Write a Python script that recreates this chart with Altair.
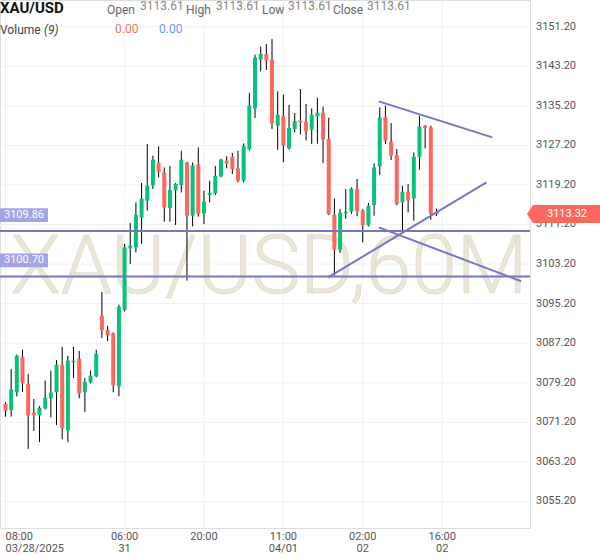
import altair as alt
import pandas as pd

# ---------------- data ----------------
opens = [3074.91, 3073.69, 3077.25, 3084.47, 3078.95, 3073.15, 3072.60, 3074.02, 3076.04, 3077.25,
         3082.85, 3069.51, 3083.32, 3084.07, 3077.25, 3079.27, 3080.49, 3092.76, 3089.87, 3089.18,
         3078.46, 3093.91, 3106.37, 3106.57, 3112.64, 3116.02, 3119.11, 3123.70, 3121.68, 3114.54,
         3118.10, 3119.19, 3123.70, 3112.98, 3123.36, 3113.45, 3117.17, 3117.49, 3120.93, 3124.10,
         3124.91, 3122.55, 3120.06, 3126.47, 3134.68, 3144.53, 3145.68, 3144.53, 3131.18, 3133.20,
         3126.59, 3130.52, 3132.19, 3131.99, 3130.37, 3133.06, 3133.81, 3128.49, 3113.18, 3106.11,
         3113.45, 3113.79, 3118.44, 3113.99, 3111.02, 3115.15, 3122.95, 3133.00, 3127.95, 3125.26,
         3115.67, 3117.84, 3116.48, 3124.91, 3131.18, 3130.84, 3113.61]
highs = [3075.23, 3081.98, 3084.90, 3085.89, 3080.97, 3075.92, 3074.50, 3079.62, 3081.64, 3083.80,
         3086.43, 3084.67, 3086.43, 3085.62, 3080.16, 3081.64, 3085.89, 3097.55, 3090.68, 3089.40,
         3094.99, 3107.26, 3111.51, 3115.67, 3119.60, 3127.48, 3125.12, 3127.00, 3122.75, 3123.03,
         3119.60, 3126.13, 3123.90, 3123.76, 3126.79, 3118.04, 3120.06, 3123.03, 3124.50, 3124.97,
         3125.66, 3126.13, 3127.60, 3137.80, 3145.54, 3147.16, 3147.70, 3148.71, 3138.12, 3137.45,
         3135.37, 3133.75, 3138.60, 3135.57, 3134.68, 3136.84, 3135.02, 3132.80, 3116.48, 3114.34,
         3118.38, 3118.71, 3120.40, 3114.34, 3115.55, 3123.56, 3134.88, 3135.23, 3131.73, 3126.47,
         3119.05, 3119.39, 3125.78, 3133.20, 3131.30, 3131.18, 3114.40]
lows = [3072.34, 3072.34, 3076.44, 3077.39, 3065.80, 3069.44, 3067.22, 3073.75, 3072.20, 3070.66,
        3067.75, 3067.22, 3080.16, 3076.04, 3073.29, 3079.07, 3080.30, 3088.25, 3087.64, 3077.25,
        3076.44, 3093.63, 3103.22, 3105.56, 3107.26, 3113.99, 3118.38, 3120.73, 3111.77, 3111.77,
        3111.10, 3117.69, 3099.84, 3110.82, 3112.78, 3111.30, 3115.67, 3117.17, 3120.73, 3122.55,
        3121.42, 3119.72, 3119.72, 3126.13, 3132.74, 3142.16, 3142.45, 3130.52, 3126.27, 3123.76,
        3126.33, 3129.83, 3129.42, 3128.21, 3127.48, 3127.54, 3123.64, 3113.12, 3100.85, 3105.44,
        3112.32, 3113.33, 3112.84, 3107.58, 3110.82, 3112.98, 3121.21, 3127.48, 3124.25, 3115.10,
        3109.61, 3113.65, 3111.97, 3122.28, 3126.59, 3112.17, 3112.90]
closes = [3073.41, 3077.80, 3084.67, 3079.07, 3072.60, 3072.60, 3074.16, 3076.18, 3077.19, 3082.85,
          3069.97, 3083.66, 3083.66, 3077.05, 3079.41, 3080.63, 3085.08, 3089.79, 3088.78, 3078.67,
          3094.58, 3106.57, 3106.92, 3113.18, 3116.42, 3119.05, 3124.31, 3121.88, 3114.66, 3118.18,
          3119.39, 3124.31, 3112.98, 3123.15, 3113.33, 3115.81, 3117.63, 3121.07, 3124.31, 3123.56,
          3122.43, 3120.06, 3127.14, 3135.23, 3144.99, 3145.68, 3144.33, 3131.65, 3133.41, 3127.14,
          3130.72, 3132.13, 3131.79, 3130.03, 3133.41, 3133.81, 3128.41, 3113.33, 3106.11, 3113.59,
          3113.79, 3118.44, 3113.85, 3111.02, 3115.00, 3122.75, 3132.86, 3128.15, 3125.12, 3115.35,
          3117.84, 3116.02, 3124.91, 3130.98, 3130.72, 3113.33, 3113.32]

tick_index = [0, 21, 35, 49, 63, 77]
tick_time = ["08:00", "06:00", "20:00", "11:00", "02:00", "16:00"]
tick_date = ["03/28/2025", "31", "", "04/01", "02", "02"]

price_ticks = [3055.2, 3063.2, 3071.2, 3079.2, 3087.2, 3095.2, 3103.2,
               3111.2, 3119.2, 3127.2, 3135.2, 3143.2, 3151.2]

level_prices = [3109.86, 3100.70]
last_price = [3113.32]

trend_id = ["upper", "upper", "rising", "rising", "falling", "falling"]
trend_idx = [65.83, 85.85, 56.89, 84.81, 65.83, 90.92]
trend_price = [3136.09, 3128.81, 3100.50, 3119.71, 3110.61, 3099.73]

symbol = "XAU/USD"
watermark = "XAU/USD,60M"
ohlc_names = ["Open", "High", "Low", "Close"]
ohlc_values = ["3113.61", "3113.61", "3113.61", "3113.61"]
volume_values = ["0.00", "0.00"]

# ---------------- styling ----------------
GREEN = "#08c27a"
RED = "#fd675e"
LINE = "#7676c2"
LABEL_BG = "#a3a3ea"
GRID = "#f0f0f0"
FONT = "Roboto"

df = pd.DataFrame({"i": list(range(len(opens))), "open": opens, "high": highs,
                   "low": lows, "close": closes})
ticks_df = pd.DataFrame({"i": tick_index, "time": tick_time, "date": tick_date})
pticks_df = pd.DataFrame({"p": price_ticks})
levels_df = pd.DataFrame({"p": level_prices})
last_df = pd.DataFrame({"p": last_price})
trend_df = pd.DataFrame({"id": trend_id, "i": trend_idx, "p": trend_price})

xs = alt.Scale(domain=[-0.0865, 91.61], nice=False, zero=False)
ys = alt.Scale(domain=[3049.82, 3156.60], nice=False, zero=False)


def X(field):
    return alt.X(field, scale=xs, axis=None)


def Y(field):
    return alt.Y(field, scale=ys, axis=None)


# grid (drawn through the shared scales)
vgrid = alt.Chart(ticks_df).mark_rule(color=GRID, strokeWidth=1).encode(x=X("i:Q"))
hgrid = alt.Chart(pticks_df).mark_rule(color=GRID, strokeWidth=1).encode(y=Y("p:Q"))
plabels = alt.Chart(pticks_df).mark_text(
    align="left", baseline="middle", fontSize=11, font=FONT, color="#555555"
).encode(x=alt.value(536), y=Y("p:Q"), text=alt.Text("p:Q", format=".2f"))

wm = alt.Chart(pd.DataFrame({"t": [watermark]})).mark_text(
    align="center", baseline="alphabetic", fontSize=82, fontWeight=300, font=FONT,
    color="#ebe6d8", stroke="#ddd6c2", strokeWidth=0.6,
).encode(x=alt.value(269), y=alt.value(293), text="t:N")

wicks = alt.Chart(df).mark_rule(color="#000000", strokeWidth=1).encode(
    x=X("i:Q"), y=Y("low:Q"), y2="high:Q")

bodies = alt.Chart(df).mark_bar(size=4).encode(
    x=X("i:Q"), y=Y("open:Q"), y2="close:Q",
    color=alt.condition("datum.close >= datum.open", alt.value(GREEN), alt.value(RED)),
)

levels = alt.Chart(levels_df).mark_rule(color=LINE, strokeWidth=2).encode(y=Y("p:Q"))

trends = alt.Chart(trend_df).mark_line(color=LINE, strokeWidth=2).encode(
    x=X("i:Q"), y=Y("p:Q"), detail="id:N")

box_path = "M -1 -0.29 L 1 -0.29 L 1 0.29 L -1 0.29 Z"
level_boxes = alt.Chart(levels_df).mark_point(
    shape=box_path, size=48 * 48, filled=True, opacity=1, color=LABEL_BG, strokeWidth=0, yOffset=-16
).encode(x=alt.value(24), y=Y("p:Q"))
level_text = alt.Chart(levels_df).mark_text(
    color="white", fontSize=11, font=FONT, align="center", baseline="middle", yOffset=-16
).encode(x=alt.value(24), y=Y("p:Q"), text=alt.Text("p:Q", format=".2f"))

tag_path = "M -1 0 L -0.84 -0.243 L 1 -0.243 L 1 0.243 L -0.84 0.243 Z"
last_box = alt.Chart(last_df).mark_point(
    shape=tag_path, size=74 * 74, filled=True, opacity=1, color=RED, strokeWidth=0
).encode(x=alt.value(564), y=Y("p:Q"))
last_text = alt.Chart(last_df).mark_text(
    color="white", fontSize=11, font=FONT, align="center", baseline="middle"
).encode(x=alt.value(567), y=Y("p:Q"), text=alt.Text("p:Q", format=".2f"))

first_tick = ticks_df.iloc[:1]
other_ticks = ticks_df.iloc[1:]


def tick_layer(frame, field, ypos, align):
    return alt.Chart(frame).mark_text(
        align=align, baseline="middle", fontSize=11, font=FONT, color="#555555"
    ).encode(x=X("i:Q"), y=alt.value(ypos), text=f"{field}:N")


tick_layers = [
    tick_layer(first_tick, "time", 537, "left"),
    tick_layer(first_tick, "date", 549, "left"),
    tick_layer(other_ticks, "time", 537, "center"),
    tick_layer(other_ticks, "date", 549, "center"),
]


def label(text, x, y, size=12, color="#555555", weight="normal", style="normal"):
    return alt.Chart(pd.DataFrame({"t": [text]})).mark_text(
        align="left", baseline="alphabetic", fontSize=size, color=color,
        fontWeight=weight, fontStyle=style, font=FONT,
    ).encode(x=alt.value(x), y=alt.value(y), text="t:N")


name_x = [107, 186, 262, 333]
value_x = [140, 216, 288, 367]
header = [label(symbol, 0, 12.5, size=15, color="#111111", weight="bold")]
for n, nx, v, vx in zip(ohlc_names, name_x, ohlc_values, value_x):
    header.append(label(n, nx, 13.5, size=12, color="#666666"))
    header.append(label(v, vx, 9.5, size=12, color="#888888"))
header.append(label("Volume", 0, 34, size=12, color="#444444"))
header.append(label("(9)", 44, 34, size=12, color="#444444", style="italic"))
header.append(label(volume_values[0], 115, 33, size=12, color="#e8766d"))
header.append(label(volume_values[1], 159, 33, size=12, color="#6a9af0"))

chart = alt.layer(
    vgrid, hgrid, plabels, wm, wicks, bodies, levels, trends,
    level_boxes, level_text, last_box, last_text,
    *tick_layers, *header,
).properties(
    width=530, height=528,
    padding={"left": 0, "top": 0, "right": 70, "bottom": 30},
    autosize=alt.AutoSizeParams(type="none"),
).configure_view(stroke=None).configure(font=FONT, background="white")

chart.save("out.html", embed_options={"renderer": "svg", "actions": False})
